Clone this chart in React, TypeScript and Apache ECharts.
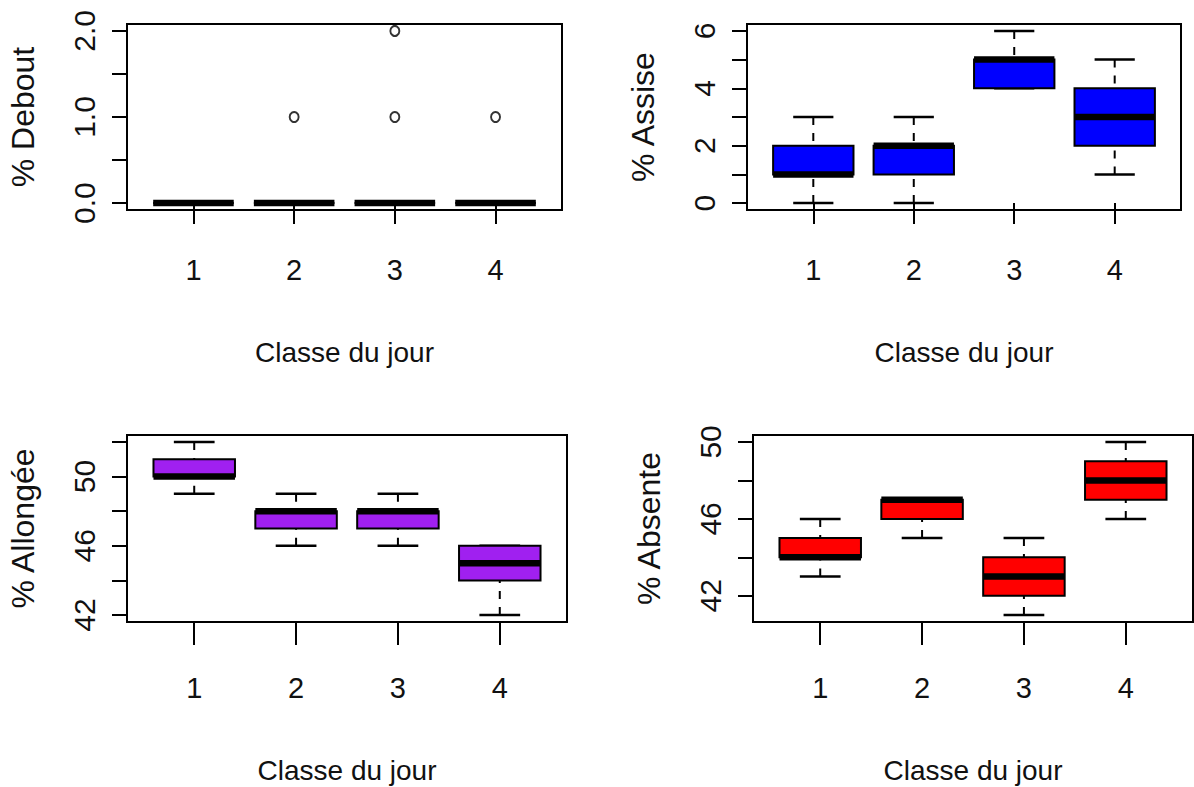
import React, { useEffect, useRef } from "react";
import * as echarts from "echarts";

// Classes (x categories)
const classes = [1, 2, 3, 4];

// Box statistics per class: [min, q1, median, q3, max]
const deboutStats = [
  [0, 0, 0, 0, 0],
  [0, 0, 0, 0, 0],
  [0, 0, 0, 0, 0],
  [0, 0, 0, 0, 0],
];
// Outliers: [class, value]
const deboutOutliers = [
  [2, 1],
  [3, 1],
  [3, 2],
  [4, 1],
];
const assiseStats = [
  [0, 1, 1, 2, 3],
  [0, 1, 2, 2, 3],
  [4, 4, 5, 5, 6],
  [1, 2, 3, 4, 5],
];
const allongeeStats = [
  [49, 50, 50, 51, 52],
  [46, 47, 48, 48, 49],
  [46, 47, 48, 48, 49],
  [42, 44, 45, 46, 46],
];
const absenteStats = [
  [43, 44, 44, 45, 46],
  [45, 46, 47, 47, 47],
  [41, 42, 43, 44, 45],
  [46, 47, 48, 49, 50],
];

// Tick marks and labelled ticks on each y axis
const deboutTicks = [0, 0.5, 1, 1.5, 2];
const deboutLabels = [0, 1, 2];
const assiseTicks = [0, 1, 2, 3, 4, 5, 6];
const assiseLabels = [0, 2, 4, 6];
const allongeeTicks = [42, 44, 46, 48, 50, 52];
const allongeeLabels = [42, 46, 50];
const absenteTicks = [42, 44, 46, 48, 50];
const absenteLabels = [42, 46, 50];

const xTitle = "Classe du jour";

const FONT = "'Liberation Sans', Arial, sans-serif";

type Panel = {
  name: string;
  stats: number[][];
  fill: string;
  yMin: number;
  yMax: number;
  ticks: number[];
  labels: number[];
  decimals: number;
  grid: { left: number; top: number; width: number; height: number };
  xLabelMargin: number;
  xNameGap: number;
  xTickLen: number;
  outliers?: number[][];
};

const panels: Panel[] = [
  {
    name: "% Debout",
    stats: deboutStats,
    fill: "#ffffff",
    yMin: -0.08,
    yMax: 2.08,
    ticks: deboutTicks,
    labels: deboutLabels,
    decimals: 1,
    grid: { left: 127, top: 24, width: 435, height: 186 },
    xLabelMargin: 45,
    xNameGap: 128,
    xTickLen: 21,
    outliers: deboutOutliers,
  },
  {
    name: "% Assise",
    stats: assiseStats,
    fill: "#0000ff",
    yMin: -0.24,
    yMax: 6.24,
    ticks: assiseTicks,
    labels: assiseLabels,
    decimals: 0,
    grid: { left: 747, top: 24, width: 434, height: 186 },
    xLabelMargin: 45,
    xNameGap: 128,
    xTickLen: 21,
  },
  {
    name: "% Allongée",
    stats: allongeeStats,
    fill: "#a020f0",
    yMin: 41.6,
    yMax: 52.4,
    ticks: allongeeTicks,
    labels: allongeeLabels,
    decimals: 0,
    grid: { left: 127, top: 435, width: 440, height: 187 },
    xLabelMargin: 51,
    xNameGap: 134,
    xTickLen: 23,
  },
  {
    name: "% Absente",
    stats: absenteStats,
    fill: "#ff0000",
    yMin: 40.64,
    yMax: 50.36,
    ticks: absenteTicks,
    labels: absenteLabels,
    decimals: 0,
    grid: { left: 753, top: 435, width: 440, height: 187 },
    xLabelMargin: 51,
    xNameGap: 134,
    xTickLen: 23,
  },
];

function makeRenderItem(fill: string) {
  return (params: any, api: any) => {
    const x = api.value(0);
    const vMin = api.value(1);
    const q1 = api.value(2);
    const med = api.value(3);
    const q3 = api.value(4);
    const vMax = api.value(5);
    const pMin = api.coord([x, vMin]);
    const pQ1 = api.coord([x, q1]);
    const pMed = api.coord([x, med]);
    const pQ3 = api.coord([x, q3]);
    const pMax = api.coord([x, vMax]);
    const cx = pMed[0];
    const half = api.size([0.8, 0])[0] / 2;
    const stHalf = api.size([0.4, 0])[0] / 2;
    const line = (x1: number, y1: number, x2: number, y2: number, style: any) => ({
      type: "line",
      shape: { x1, y1, x2, y2 },
      style: Object.assign({ stroke: "#000", lineWidth: 2.5, fill: null }, style),
    });
    const children: any[] = [];
    if (pMin[1] !== pQ1[1]) {
      children.push(line(cx, pMin[1], cx, pQ1[1], { lineWidth: 2, lineDash: [8, 8] }));
    }
    if (pMax[1] !== pQ3[1]) {
      children.push(line(cx, pMax[1], cx, pQ3[1], { lineWidth: 2, lineDash: [8, 8] }));
    }
    children.push(line(cx - stHalf, pMin[1], cx + stHalf, pMin[1], {}));
    children.push(line(cx - stHalf, pMax[1], cx + stHalf, pMax[1], {}));
    children.push({
      type: "rect",
      shape: { x: cx - half, y: pQ3[1], width: half * 2, height: pQ1[1] - pQ3[1] },
      style: { fill, stroke: "#000", lineWidth: 2 },
    });
    children.push(line(cx - half, pMed[1], cx + half, pMed[1], { lineWidth: 6.5 }));
    return { type: "group", children };
  };
}

export default function App() {
  const ref = useRef<HTMLDivElement>(null);
  useEffect(() => {
    if (!ref.current) return;
    const chart = echarts.init(ref.current, undefined, { renderer: "svg" });
    const grid = panels.map((p) => ({
      left: p.grid.left,
      top: p.grid.top,
      width: p.grid.width,
      height: p.grid.height,
      show: true,
      borderColor: "#000",
      borderWidth: 2,
      backgroundColor: "transparent",
    }));
    const xAxis = panels.map((p, i) => ({
      gridIndex: i,
      type: "value",
      min: 0.34,
      max: 4.66,
      axisLine: { show: false },
      splitLine: { show: false },
      axisTick: {
        show: true,
        length: p.xTickLen,
        customValues: classes,
        lineStyle: { color: "#000", width: 2 },
      },
      axisLabel: {
        customValues: classes,
        margin: p.xLabelMargin,
        fontSize: 29,
        fontFamily: FONT,
        color: "#111",
      },
      name: xTitle,
      nameLocation: "middle",
      nameGap: p.xNameGap,
      nameTextStyle: { fontSize: 28, fontFamily: FONT, color: "#111" },
    }));
    const yAxis = panels.map((p, i) => ({
      gridIndex: i,
      type: "value",
      min: p.yMin,
      max: p.yMax,
      axisLine: { show: false },
      splitLine: { show: false },
      axisTick: {
        show: true,
        length: 15,
        customValues: p.ticks,
        lineStyle: { color: "#000", width: 2 },
      },
      axisLabel: {
        customValues: p.labels,
        rotate: 90,
        margin: 28,
        fontSize: 30,
        fontFamily: FONT,
        color: "#111",
        formatter: (v: number) => Number(v).toFixed(p.decimals),
      },
      name: p.name,
      nameLocation: "middle",
      nameRotate: 90,
      nameGap: 88,
      nameTextStyle: { fontSize: 32, fontFamily: FONT, color: "#111" },
    }));
    const series: any[] = [];
    panels.forEach((p, i) => {
      series.push({
        type: "custom",
        xAxisIndex: i,
        yAxisIndex: i,
        renderItem: makeRenderItem(p.fill),
        encode: { x: 0, y: [1, 2, 3, 4, 5] },
        data: classes.map((c, k) => [c, ...p.stats[k]]),
        z: 2,
      });
      if (p.outliers) {
        series.push({
          type: "scatter",
          xAxisIndex: i,
          yAxisIndex: i,
          symbol: "emptyCircle",
          symbolSize: [9, 10],
          itemStyle: { color: "#000", borderColor: "#000", borderWidth: 1.6 },
          data: p.outliers,
          z: 3,
        });
      }
    });
    chart.setOption({
      animation: false,
      backgroundColor: "#ffffff",
      grid,
      xAxis,
      yAxis,
      series,
    });
    return () => chart.dispose();
  }, []);
  return (
    <div
      ref={ref}
      style={{ position: "absolute", left: 0, top: 0, width: 1194, height: 787 }}
    />
  );
}
